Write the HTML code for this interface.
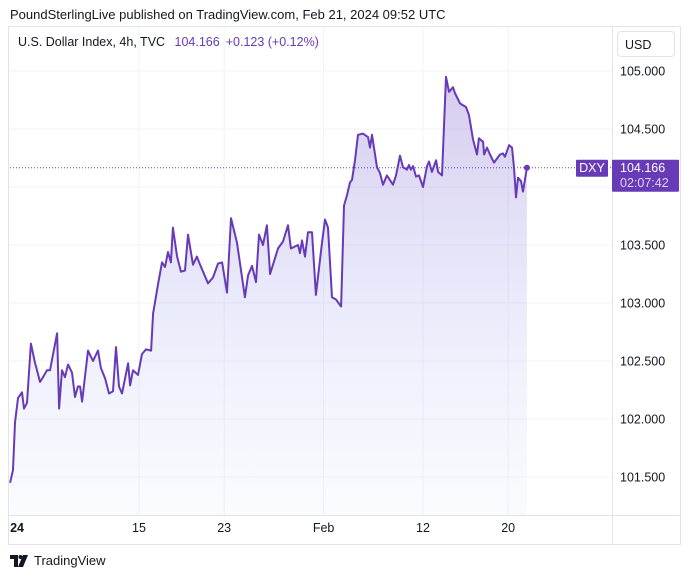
<!DOCTYPE html>
<html><head><meta charset="utf-8"><style>
body{margin:0;width:691px;height:578px;background:#fff;font-family:"Liberation Sans",sans-serif;overflow:hidden;position:relative}
.hdr{position:absolute;left:10px;top:7px;font-size:13px;color:#131722}
.frame{position:absolute;left:8px;top:26px;width:673px;height:519px;border:1px solid #e0e3eb;box-sizing:border-box}
svg{position:absolute;left:0;top:0}
.legend{position:absolute;left:18px;top:35px;font-size:12.5px;color:#131722}
.legend .v{color:#673ab7;margin-left:6px}
.usd{position:absolute;left:617px;top:31px;width:58px;height:26px;border:1px solid #e0e3eb;border-radius:4px;font-size:12.5px;line-height:26px;padding-left:7px;box-sizing:border-box;color:#131722}
.logo{position:absolute;left:10px;top:553px;font-size:13px;color:#131722;display:flex;align-items:center;gap:4px}
</style></head><body>
<div class="hdr">PoundSterlingLive published on TradingView.com, Feb 21, 2024 09:52 UTC</div>
<div class="frame"></div>
<svg id="chart" width="691" height="578"></svg>
<div class="legend">U.S. Dollar Index, 4h, TVC <span class="v">104.166</span><span class="v">+0.123 (+0.12%)</span></div>
<div class="usd">USD</div>
<div class="logo"><svg width="20" height="12" style="position:static" viewBox="0 0 20 12"><path d="M0 0h8v12H4V4H0z" fill="#131722"/><circle cx="10.5" cy="2" r="2" fill="#131722"/><path d="M13 0h5l-5 12h-5z" fill="#131722"/></svg>TradingView</div>
<script>
const times=[0.92,1.13,1.27,1.48,1.76,1.90,2.11,2.39,2.68,2.82,3.03,3.24,3.52,3.73,4.23,4.37,4.58,4.79,5.00,5.28,5.49,5.70,5.85,5.99,6.41,6.76,7.11,7.32,7.61,7.89,8.17,8.38,8.59,8.80,9.23,9.37,9.58,9.93,10.21,10.49,10.85,10.99,11.34,11.62,11.83,12.04,12.25,12.39,12.68,12.96,13.24,13.45,13.80,14.08,14.30,14.86,15.21,15.56,15.85,16.20,16.48,16.90,17.46,17.68,17.96,18.24,18.45,18.73,19.01,19.23,19.79,20.14,20.49,20.70,21.20,21.34,21.48,21.69,21.90,22.18,22.46,22.89,23.10,23.31,23.59,23.87,24.23,24.44,24.65,24.86,25.00,25.21,25.42,25.77,26.13,26.27,26.41,26.76,26.97,27.18,27.46,27.89,28.10,28.38,28.59,28.87,29.01,29.15,29.30,29.51,29.72,30.00,30.28,30.42,30.63,30.92,31.06,31.34,31.62,31.83,32.11,32.25,32.61,33.03,33.24,33.52,33.80,33.94,34.23,34.30,34.51,34.72,35.00,35.42,35.63,35.77,36.06,36.27,36.41,36.55,36.69,36.90,37.04,37.32];
const prices=[101.45,101.56,101.97,102.18,102.23,102.09,102.14,102.65,102.48,102.42,102.32,102.36,102.42,102.42,102.74,102.09,102.42,102.36,102.47,102.40,102.19,102.28,102.28,102.15,102.59,102.50,102.59,102.44,102.35,102.22,102.24,102.62,102.28,102.22,102.48,102.29,102.42,102.38,102.56,102.60,102.59,102.91,103.16,103.35,103.31,103.44,103.35,103.65,103.40,103.27,103.28,103.59,103.33,103.40,103.33,103.17,103.22,103.34,103.35,103.09,103.73,103.52,103.05,103.24,103.32,103.18,103.59,103.50,103.67,103.25,103.47,103.53,103.67,103.47,103.50,103.43,103.54,103.40,103.61,103.61,103.07,103.52,103.72,103.65,103.05,103.03,102.97,103.84,103.93,104.04,104.06,104.23,104.45,104.46,104.43,104.34,104.45,104.17,104.12,104.02,104.10,104.02,104.10,104.27,104.17,104.15,104.19,104.15,104.18,104.09,104.10,104.00,104.18,104.22,104.13,104.23,104.13,104.10,104.95,104.82,104.86,104.81,104.72,104.69,104.62,104.41,104.28,104.42,104.39,104.28,104.34,104.28,104.21,104.28,104.29,104.26,104.36,104.34,104.17,103.91,104.08,104.05,103.96,104.166];
const priceTicks=[105,104.5,104,103.5,103,102.5,102,101.5];
const priceTickLabels=["105.000","104.500","104.000","103.500","103.000","102.500","102.000","101.500"];
const timeTicks=[1.41,10,16,23,30,36];
const timeTickLabels=["24","15","23","Feb","12","20"];
const timeGrid=[10,16,23,30,36];
const lastPrice=104.166;

const X=t=>14.2*t-3;
const Y=v=>71+(105-v)*116;
const NS='http://www.w3.org/2000/svg';
const svg=document.getElementById('chart');
function mk(tag,attrs){const e=document.createElementNS(NS,tag);for(const k in attrs)e.setAttribute(k,attrs[k]);svg.appendChild(e);return e;}
svg.innerHTML='<defs><linearGradient id="ag" x1="0" y1="0" x2="0" y2="1"><stop offset="0" stop-color="rgba(110,70,190,0.28)"/><stop offset="0.55" stop-color="rgba(120,130,230,0.15)"/><stop offset="1" stop-color="rgba(160,180,240,0.05)"/></linearGradient><clipPath id="pc"><rect x="9" y="27" width="603" height="488"/></clipPath></defs>';
priceTicks.forEach((v,i)=>{
 const g=mk('line',{x1:9,x2:612,y1:Y(v),y2:Y(v),stroke:'#f0f3fa','stroke-width':1});
 
 const t=mk('text',{x:620,y:Y(v)+4.5,'font-size':12.5,fill:'#131722','font-family':'Liberation Sans, sans-serif'});
 t.textContent=priceTickLabels[i];
 
});
timeGrid.forEach(t=>{
 const g=mk('line',{x1:X(t),x2:X(t),y1:27,y2:515,stroke:'#f0f3fa','stroke-width':1});
 
});
timeTicks.forEach((t,i)=>{
 const e=mk('text',{x:X(t),y:532,'font-size':12.5,fill:'#131722','text-anchor':'middle','font-weight':i==0?'bold':'normal','font-family':'Liberation Sans, sans-serif'});
 e.textContent=timeTickLabels[i];
 
});
mk('line',{x1:612.5,x2:612.5,y1:26,y2:545,stroke:'#e0e3eb'});
mk('line',{x1:8,x2:681,y1:515.5,y2:515.5,stroke:'#e0e3eb'});
let d='';times.forEach((t,i)=>{d+=(i?'L':'M')+X(t).toFixed(1)+' '+Y(prices[i]).toFixed(1);});
const area=mk('path',{d:d+`L${X(times[times.length-1])} 515L${X(times[0])} 515Z`,fill:'url(#ag)','clip-path':'url(#pc)'});

const ln=mk('path',{d:d,fill:'none',stroke:'#673ab7','stroke-width':2,'stroke-linejoin':'round','clip-path':'url(#pc)'});

const ly=Y(lastPrice);
const dl=mk('line',{x1:10,x2:612,y1:ly,y2:ly,stroke:'#673ab7','stroke-width':1,'stroke-dasharray':'1 2'});

const dot=mk('circle',{cx:X(times[times.length-1]),cy:ly,r:3,fill:'#673ab7'});

const sb=mk('rect',{x:576,y:ly-8,width:32,height:17,rx:1,fill:'#673ab7'});

const st=mk('text',{x:592,y:ly+4.5,'font-size':12.5,fill:'#fff','text-anchor':'middle','font-family':'Liberation Sans, sans-serif'});st.textContent='DXY';
const pb=mk('rect',{x:612,y:ly-8,width:67,height:32,rx:1,fill:'#673ab7'});

const pt=mk('text',{x:620,y:ly+4.5,'font-size':12.5,fill:'#fff','font-family':'Liberation Sans, sans-serif'});pt.textContent=lastPrice.toFixed(3);
const ct=mk('text',{x:620,y:ly+19.5,'font-size':12.5,fill:'#e0d4f5','font-family':'Liberation Sans, sans-serif'});ct.textContent='02:07:42';
</script>
</body></html>
